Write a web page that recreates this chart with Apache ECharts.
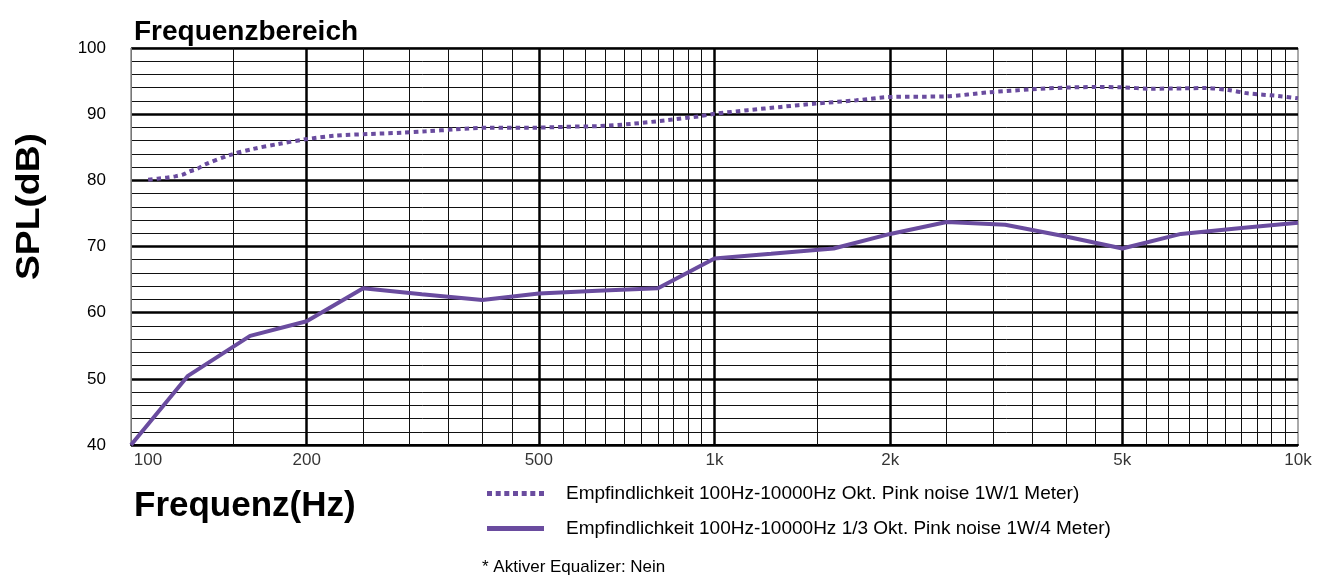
<!DOCTYPE html>
<html>
<head>
<meta charset="utf-8">
<script src="https://cdn.jsdelivr.net/npm/echarts@6/dist/echarts.min.js"></script>
<style>
html,body{margin:0;padding:0;background:#fff;}
#c{width:1319px;height:575px;}
</style>
</head>
<body>
<div id="c"></div>
<script>
// ---- data ----
const dottedFreq = [107,111,115,119,123,126,130,134,148,162,179,199,224,255,291,320,360,408,489,560,636,724,830,945,1000,1140,1300,1490,1750,2000,2500,2950,3500,3950,4500,5000,5600,6400,6900,7600,8200,9250,10000];
const dottedSpl  = [80.1,80.25,80.4,80.6,80.9,81.35,81.75,82.4,83.85,84.75,85.5,86.2,86.75,87.0,87.2,87.4,87.7,87.95,87.95,88.1,88.2,88.55,89.1,89.7,90.05,90.6,91.1,91.6,92.1,92.6,92.7,93.3,93.75,94.0,94.1,94.05,93.85,93.9,93.95,93.65,93.15,92.75,92.4];
const solidFreq = [100,125,160,200,250,315,400,500,630,800,1000,1250,1600,2000,2500,3150,4000,5000,6300,8000,10000];
const solidSpl  = [40,50.4,56.5,58.7,63.7,62.8,61.9,62.9,63.3,63.7,68.2,68.9,69.7,71.9,73.7,73.3,71.5,69.7,71.9,72.8,73.6];
const majorFreqs = [200,500,1000,2000,5000];
const minorFreqs = [150,250,300,350,400,450,550,600,650,700,750,800,850,900,950,1500,2500,3000,3500,4000,4500,5500,6000,6500,7000,7500,8000,8500,9000,9500];
const tickFreqs = [100,200,500,1000,2000,5000,10000];
const tickLabels = ['100','200','500','1k','2k','5k','10k'];
const seriesNames = ['Empfindlichkeit 100Hz-10000Hz Okt. Pink noise 1W/1 Meter)','Empfindlichkeit 100Hz-10000Hz 1/3 Okt. Pink noise 1W/4 Meter)'];

const purple = '#6a4c9f';
const FONT = 'Liberation Sans, Arial, sans-serif';

const chart = echarts.init(document.getElementById('c'), null, {renderer:'canvas'});
const option = {
  animation:false,
  textStyle:{fontFamily:FONT},
  title:{text:'Frequenzbereich', left:129, top:13, textStyle:{fontSize:28, fontWeight:'bold', color:'#000', fontFamily:FONT}},
  grid:{left:131, right:21, top:48, bottom:130, show:true, borderColor:'#555', borderWidth:1},
  legend:{
    orient:'vertical', left:482, top:479, itemWidth:57, itemHeight:5, itemGap:16,
    textStyle:{fontSize:19, color:'#000', fontFamily:FONT, padding:[0,0,0,17]},
    data:[
      {name:seriesNames[0], icon:'path://M0,0H5V5H0Z M8.7,0H13.7V5H8.7Z M17.3,0H22.3V5H17.3Z M26,0H31V5H26Z M34.7,0H39.7V5H34.7Z M43.3,0H48.3V5H43.3Z M52,0H57V5H52Z', itemStyle:{color:purple}},
      {name:seriesNames[1], icon:'path://M0,0H57V5H0Z', itemStyle:{color:purple}}
    ]
  },
  xAxis:{type:'log', logBase:10, min:100, max:10000,
    axisLine:{show:true, onZero:false, lineStyle:{color:'#000', width:2}},
    axisTick:{show:false}, axisLabel:{show:false}, splitLine:{show:false}},
  yAxis:{type:'value', min:40, max:100, interval:10,
    axisLine:{show:true, lineStyle:{color:'#777', width:1}},
    axisTick:{show:false},
    axisLabel:{fontSize:17, color:'#000', margin:25, fontFamily:FONT},
    splitLine:{show:true, lineStyle:{color:'#000', width:2.5}},
    minorTick:{show:false, splitNumber:5},
    minorSplitLine:{show:true, lineStyle:{color:'#111', width:1}}
  },
  graphic:[
    {type:'text', left:13, top:133, rotation:Math.PI/2, scaleX:1.13, style:{text:'SPL(dB)', font:'bold 33px '+FONT, fill:'#000'}},
    {type:'text', left:134, top:489, style:{text:'Frequenz(Hz)', font:'bold 35px '+FONT, fill:'#000'}},
    {type:'text', left:482, top:559, style:{text:'* Aktiver Equalizer: Nein', font:'17px '+FONT, fill:'#000'}}
  ],
  series:[
    {type:'line', name:'grid', data:[], z:1, silent:true,
      markLine:{silent:true, symbol:'none', animation:false, label:{show:false},
        data: majorFreqs.map(f=>({xAxis:f, lineStyle:{color:'#000', width:2.5, type:'solid'}}))
          .concat(minorFreqs.map(f=>({xAxis:f, lineStyle:{color:'#111', width:1, type:'solid'}})))
      }
    },
    {type:'scatter', name:'ticks', silent:true, symbolSize:0, z:1,
      data: tickFreqs.map((f,i)=>({value:[f,40], label:{show:true, formatter:tickLabels[i], offset: i===0 ? [17,0] : [0,0]}})),
      label:{position:'bottom', distance:7, fontSize:17, color:'#000', fontFamily:FONT}
    },
    {type:'line', name:seriesNames[0], smooth:0.3, showSymbol:false, z:5, color:purple,
      data: dottedFreq.map((f,i)=>[f,dottedSpl[i]]),
      lineStyle:{color:purple, width:4, type:[4.5,4], cap:'butt'}
    },
    {type:'line', name:seriesNames[1], showSymbol:false, z:5, color:purple,
      data: solidFreq.map((f,i)=>[f,solidSpl[i]]),
      lineStyle:{color:purple, width:4, type:'solid'}
    }
  ]
};
chart.setOption(option);
</script>
</body>
</html>
